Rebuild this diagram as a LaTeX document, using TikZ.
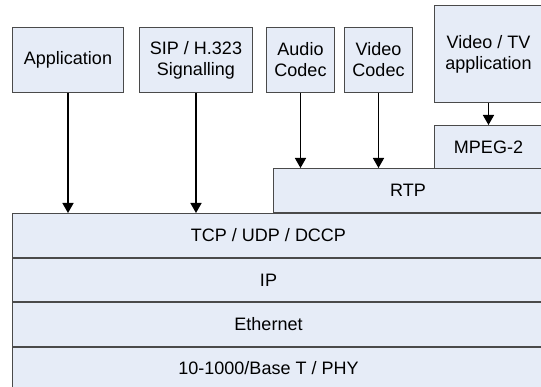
\documentclass[tikz,border=0pt]{standalone}
\usepackage{fontspec}
\setmainfont{Liberation Sans}
\usetikzlibrary{positioning, arrows.meta}

\definecolor{layerfill}{HTML}{E6ECF7}
\definecolor{layerline}{HTML}{4A4A4A}

\begin{document}
\begin{tikzpicture}[
    x=1pt, y=-1pt,
    node distance=0pt,
    box/.style={
        draw=layerline,
        fill=layerfill,
        line width=1pt,
        inner sep=0pt,
        anchor=north west,
        minimum height=65pt,
        align=center,
        font=\fontsize{18}{21}\selectfont
    },
    layer/.style={
        box,
        minimum width=530pt,
        minimum height=44pt
    },
    arrow/.style={-{Triangle[width=11pt,length=10pt]}, line width=1.5pt}
]
\useasboundingbox (0,0) rectangle (541,387);

% applications on top
\node[box, minimum width=111pt] (app) at (12,27) {Application};
\node[box, minimum width=113pt] (sip) at (139,27) {SIP / H.323\\Signalling};
\node[box, minimum width=68pt] (audio) at (266,27) {Audio\\Codec};
\node[box, minimum width=68pt] (video) at (344,27) {Video\\Codec};
\node[box, minimum width=108pt, minimum height=97pt] (tvapp) at (434,5) {Video / TV\\application};

% middle layers
\node[box, minimum width=108pt, minimum height=43pt] (mpeg) at (434,125) {MPEG-2};
\node[box, minimum width=269pt, minimum height=44pt] (rtp) at (273,168) {RTP};

% protocol stack
\node[layer, label={[xshift=-9pt, font=\fontsize{18}{21}\selectfont]center:TCP / UDP / DCCP}] (tcp) at (12,213) {};
\node[layer, minimum height=43pt, below=of tcp.south west, anchor=north west,
      label={[xshift=-9pt, font=\fontsize{18}{21}\selectfont]center:IP}] (ip) {};
\node[layer, below=of ip.south west, anchor=north west,
      label={[xshift=-9pt, font=\fontsize{18}{21}\selectfont]center:Ethernet}] (eth) {};
\node[layer, minimum height=41pt, below=of eth.south west, anchor=north west,
      label={[xshift=-9pt, font=\fontsize{18}{21}\selectfont]center:10-1000/Base T / PHY}] (phy) {};

\draw[arrow] (app.south) -- (app.south |- tcp.north);
\draw[arrow] (sip.south) -- (sip.south |- tcp.north);
\draw[arrow] (audio.south) -- (audio.south |- rtp.north);
\draw[arrow] (video.south) -- (video.south |- rtp.north);
\draw[arrow] (tvapp.south) -- (tvapp.south |- mpeg.north);

\end{tikzpicture}
\end{document}
